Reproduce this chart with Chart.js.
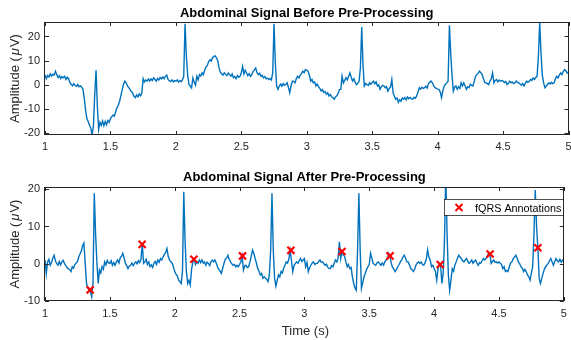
<!DOCTYPE html>
<html><head><meta charset="utf-8">
<script src="https://cdn.jsdelivr.net/npm/chart.js@4.4.1/dist/chart.umd.min.js"></script>
<style>
html,body{margin:0;padding:0;background:#fff;overflow:hidden;width:571px;height:340px}
canvas{position:absolute;left:0}
#c1{top:0}
#c2{top:160px}
</style>
</head><body>
<canvas id="c1" width="571" height="160"></canvas>
<canvas id="c2" width="571" height="180"></canvas>
<script>
// ---- data (sample clock: 1.00 s start, 10 ms step) ----
const T_START = 1.0;
const T_STEP = 0.01;

const beforeUV = [
 4.2, 2.5, 3.8, 3.2, 4.5, 3.6, 4.4, 4.0, 5.6, 4.2,
 3.0, 3.8, 2.6, 3.4, 2.9, 3.5, 2.2, 3.1, 2.5, 1.0,
 0.2, -0.4, 0.5, -0.3, -0.6, 0.1, -0.8, -0.4, -1.0, -1.8,
 -5.5, -10.5, -14.0, -15.2, -16.8, -18.0, -20.8, -17.0, -4.0, 6.0,
 -9.0, -18.5, -15.5, -16.8, -15.0, -17.0, -15.2, -16.5, -14.8, -15.5,
 -14.0, -13.2, -12.5, -13.0, -11.2, -9.5, -8.5, -6.8, -4.5, -2.0,
 0.2, 1.5, 0.8, -0.5, -1.2, -2.0, -2.8, -3.5, -4.8, -5.3,
 -4.2, -5.0, -3.8, -4.5, -3.4, 2.5, 1.2, 2.0, 1.5, 2.4,
 1.6, 2.4, 1.8, 2.9, 2.2, 1.5, 2.6, 2.0, 3.0, 2.4,
 3.2, 2.5, 3.5, 4.0, 2.2, 1.6, 1.4, 2.0, 1.2, 1.7,
 1.5, 2.0, 1.1, 1.8, 1.3, 2.0, 3.5, 25.3, 12.0, 4.0,
 0.1, -0.5, -1.3, 2.8, 1.0, -0.2, 3.5, 2.0, 4.2, 3.6,
 4.9, 4.2, 6.0, 7.4, 8.0, 9.5, 10.3, 9.8, 11.2, 11.8,
 12.0, 11.2, 10.0, 7.0, 5.2, 4.5, 4.0, 5.0, 4.3, 3.8,
 4.9, 4.2, 3.5, 4.5, 2.9, 3.4, 2.5, 3.8, 3.1, 3.5,
 5.0, 7.6, 4.5, 6.0, 4.9, 3.8, 4.6, 3.5, 4.2, 5.5,
 6.2, 6.9, 5.0, 4.2, 4.8, 3.5, 3.9, 2.9, 3.4, 2.5,
 2.8, 2.2, 2.6, 2.0, 5.0, 25.3, 9.0, -0.5, -1.9, -0.5,
 0.3, -0.6, 0.5, -0.2, 0.1, 0.8, -1.0, -3.3, -0.5, 1.5,
 1.5, 0.8, 2.5, 3.5, 2.8, 4.0, 4.6, 5.6, 5.0, 6.3,
 6.0, 5.6, 4.0, 1.5, 2.2, 0.8, 1.2, -0.5, 0.3, -0.8,
 -1.5, -2.6, -2.0, -3.2, -2.8, -3.9, -3.3, -4.6, -4.0, -5.0,
 -5.3, -6.0, -5.0, -4.6, -3.5, -2.0, -1.9, 3.5, 0.8, 1.8,
 2.9, 2.0, 3.5, 4.9, 3.0, 1.5, 2.5, 1.0, 0.1, 0.6,
 1.5, 7.0, 23.9, 8.0, -0.5, 0.5, 0.1, -0.3, 0.8, 0.2,
 1.0, 1.5, 0.4, 1.2, -0.5, 0.0, -1.9, -0.8, -0.2, -0.5,
 -1.2, -0.8, -2.6, -1.5, -1.0, 2.2, -3.3, -4.8, -6.0, -5.5,
 -7.3, -6.2, -6.8, -5.5, -6.0, -5.3, -6.2, -5.0, -5.8, -5.3,
 -5.8, -6.0, -5.2, -5.6, -4.6, -3.0, -1.2, -1.8, -1.0, -1.5,
 -1.2, -0.6, -1.4, 0.5, 1.0, 1.5, 0.8, -0.5, -1.2, -1.5,
 -1.8, -1.9, -3.0, -5.3, -2.5, -0.5, 0.2, 0.8, 1.5, 24.6,
 13.0, 4.0, -2.6, -1.0, -0.5, -1.9, -0.8, -1.5, 0.8, -0.5,
 0.8, -0.5, -1.9, -0.8, -1.2, 0.2, -0.3, -0.5, 1.5, 3.5,
 4.2, 4.8, 5.6, 5.0, 4.2, 2.5, 1.0, 0.8, 0.5, 0.1,
 1.5, 2.5, 4.9, 0.8, 1.8, 2.2, 1.2, 2.0, 1.5, 1.8,
 1.5, 0.9, 1.4, 0.1, 0.6, 1.5, 0.8, 1.2, 0.5, 0.8,
 1.5, 1.0, 0.8, 0.3, -0.2, 0.5, -0.5, 0.6, 1.5, 1.0,
 1.5, 2.2, 1.8, 2.8, 2.2, 3.0, 3.5, 12.0, 26.0, 13.0,
 4.0, 0.8, -1.2, -0.5, 0.1, 0.8, 0.3, 1.0, 0.5, 0.8,
 2.5, 3.5, 2.8, 4.0, 4.9, 4.2, 5.5, 6.3, 5.8, 4.9,
 5.2
];

const afterUV = [
 1.0, -2.6, 0.5, 1.2, -0.4, 0.3, 1.5, 2.3, 0.8, 0.1,
 -0.4, 0.6, -0.3, 0.5, 0.9, 0.1, -0.5, -1.0, -1.4, -1.6,
 -2.1, -0.8, -1.2, -0.2, 0.2, 0.5, 1.8, 2.6, 3.4, 4.8,
 5.5, 0.1, -5.3, -6.5, -7.1, -7.5, -8.9, -5.3, 18.9, 8.0,
 0.5, -5.3, -1.7, -2.5, -0.8, -1.5, 0.5, -0.3, 0.9, 0.2,
 0.1, 0.8, -0.4, 0.3, -0.4, 0.5, 1.0, 0.2, 1.6, 2.0,
 2.8, 1.5, 0.1, -0.5, -1.3, -0.6, -0.4, 0.2, -0.5, 0.1,
 0.5, 0.0, 0.8, 0.3, 1.2, 5.3, 0.1, 0.5, 1.2, -0.2,
 0.5, -0.8, -0.3, -1.0, 0.1, 0.6, -0.2, 1.0, 0.4, 1.4,
 1.0, 1.8, 2.5, 3.0, 4.1, 2.0, 1.0, 0.5, 0.2, -0.8,
 -2.1, -2.8, -3.2, -4.4, -4.8, -5.3, -2.0, 19.3, 6.0, -2.0,
 -5.3, -4.4, -5.7, -1.5, 0.5, 1.2, -0.2, 0.5, 0.1, 1.0,
 0.3, 1.0, 0.2, 0.5, -0.4, 0.4, 0.1, -0.5, 0.6, 1.0,
 0.5, 1.0, 0.2, -0.8, -1.5, -2.0, -2.6, -1.2, 0.1, 1.2,
 1.5, 2.3, 1.2, 0.5, 0.0, -0.4, -0.2, -0.8, -0.4, -0.8,
 -0.2, 0.5, 2.1, -1.7, -0.5, -0.4, -1.0, -0.8, 0.5, 2.0,
 3.7, 2.8, 1.4, 0.2, -1.3, -2.0, -3.0, -2.6, -3.9, -3.5,
 -3.9, -4.2, -4.8, -3.0, 3.7, 18.9, 3.7, -3.9, -6.0, -4.5,
 -3.0, -3.5, -2.1, -2.5, -1.2, -0.4, 0.5, 0.2, 1.2, 3.6,
 1.0, -2.1, -0.5, 0.1, 0.5, 0.1, 0.8, 1.4, 0.6, 1.0,
 1.4, -0.8, 0.3, -2.1, -1.0, -0.4, 0.2, 0.5, -0.2, 0.1,
 0.1, 0.6, 1.0, 0.4, 0.5, 0.0, -0.4, -0.1, -0.9, -1.3,
 -1.3, -0.5, -0.8, 0.2, 1.0, 0.5, 1.5, 5.9, 1.4, 3.3,
 2.3, 2.0, 0.5, -0.8, -0.2, -1.3, -1.0, -3.5, -5.3, -6.5,
 -7.1, 3.7, 18.9, 3.7, -6.6, -5.0, -3.5, -2.5, -1.5, -0.8,
 -0.2, 2.8, 1.5, 0.1, -0.2, -0.4, 0.3, 0.5, 0.0, -0.4,
 0.2, -0.4, 0.5, 1.0, 1.2, 2.8, 2.1, 0.1, -1.0, -1.5,
 -2.1, -1.5, -0.8, -0.2, 0.5, 1.0, 1.8, 2.3, 1.5, 0.5,
 0.5, -0.3, -1.3, -1.6, -2.1, -1.5, -0.4, 0.2, 0.5, 0.1,
 0.5, -0.2, -0.4, 0.3, 1.2, 3.7, 1.8, 1.0, -0.8, -0.4,
 -1.3, -2.0, -4.4, -1.5, 0.1, -0.2, -5.3, -2.6, 6.0, 24.0,
 8.1, -3.0, -7.1, -4.4, -1.3, -2.0, -0.4, 0.5, 1.5, 2.3,
 1.8, 1.4, 0.8, 0.5, 1.0, 1.4, 0.6, 0.1, 0.5, 1.0,
 0.1, 0.6, 1.0, 0.2, -0.4, 0.3, 0.1, 0.8, 1.4, 1.0,
 1.4, 2.0, 2.8, 2.6, 0.1, 0.6, 1.0, 0.4, 0.5, 0.2,
 0.5, 0.1, -0.2, -1.3, -0.8, -2.1, -1.8, -2.1, -0.8, 0.2,
 0.5, 1.4, 1.8, 2.3, 1.5, 0.5, 0.0, -0.8, -1.2, -2.1,
 -1.5, -2.1, -3.0, -3.5, -4.4, -2.5, -0.8, 8.0, 19.8, 10.0,
 4.3, -3.9, -5.3, -4.0, -2.6, -1.5, -0.8, -0.3, 0.1, 0.8,
 1.4, 0.5, -0.4, 0.6, 1.4, 0.8, 0.5, 1.2, 0.4, 1.0,
 0.5
];

const fqrsTime = [1.348, 1.749, 2.148, 2.523, 2.896, 3.29, 3.66, 4.047, 4.432, 4.80];
const fqrsUV   = [-7.0, 5.2, 1.2, 2.1, 3.6, 3.3, 2.1, -0.2, 2.6, 4.3];

const xTickValues = [1, 1.5, 2, 2.5, 3, 3.5, 4, 4.5, 5];
const xTickLabels = ['1', '1.5', '2', '2.5', '3', '3.5', '4', '4.5', '5'];
const yTicksBefore = [-20, -10, 0, 10, 20];
const yTicksAfter = [-10, 0, 10, 20];

const titleBefore = 'Abdominal Signal Before Pre-Processing';
const titleAfter = 'Abdominal Signal After Pre-Processing';
const xLabel = 'Time (s)';
const yLabelParts = ['Amplitude (', 'μ', 'V)'];
const legendLabel = 'fQRS Annotations';

// ---- styling ----
const FONT = '"Liberation Sans", Arial, Helvetica, sans-serif';
const AXC = '#262626';
const LINE_BLUE = '#0072BD';
Chart.defaults.font.family = FONT;
Chart.defaults.font.size = 11;
Chart.defaults.color = AXC;

function toXY(values) {
  return values.map((v, i) => ({ x: +(T_START + i * T_STEP).toFixed(3), y: v }));
}

function drawYLabel(ctx, baseX, centerY) {
  ctx.save();
  ctx.translate(baseX, centerY);
  ctx.rotate(-Math.PI / 2);
  ctx.fillStyle = AXC;
  ctx.textBaseline = 'alphabetic';
  ctx.textAlign = 'left';
  const fonts = ['13px ' + FONT, 'italic 13px ' + FONT, '13px ' + FONT];
  const gaps = [2, 1, 0];
  let total = 0;
  const widths = yLabelParts.map((p, i) => { ctx.font = fonts[i]; const w = ctx.measureText(p).width; total += w + gaps[i]; return w; });
  let x = -total / 2;
  yLabelParts.forEach((p, i) => { ctx.font = fonts[i]; ctx.fillText(p, x, 0); x += widths[i] + gaps[i]; });
  ctx.restore();
}

function drawCross(ctx, x, y, half) {
  ctx.beginPath();
  ctx.moveTo(x - half, y - half); ctx.lineTo(x + half, y + half);
  ctx.moveTo(x - half, y + half); ctx.lineTo(x + half, y - half);
  ctx.stroke();
}

function matlabPlugin(cfg) {
  return {
    id: 'matlabAxes' + cfg.key,
    afterDatasetsDraw(chart) {
      const { ctx, chartArea: a, scales } = chart;
      ctx.save();
      ctx.strokeStyle = AXC;
      ctx.lineWidth = 1;
      ctx.beginPath();
      scales.x.ticks.forEach(t => {
        const px = Math.round(scales.x.getPixelForValue(t.value)) + 0.5;
        ctx.moveTo(px, a.bottom); ctx.lineTo(px, a.bottom - 4);
        ctx.moveTo(px, a.top); ctx.lineTo(px, a.top + 4);
      });
      scales.y.ticks.forEach(t => {
        const py = Math.round(scales.y.getPixelForValue(t.value)) + 0.5;
        ctx.moveTo(a.left, py); ctx.lineTo(a.left + 4, py);
        ctx.moveTo(a.right, py); ctx.lineTo(a.right - 4, py);
      });
      ctx.stroke();
      ctx.strokeRect(Math.round(a.left) - 0.5, Math.round(a.top) + 0.5,
                     Math.round(a.right) - Math.round(a.left), Math.round(a.bottom) - Math.round(a.top) - 1);
      ctx.restore();
    },
    afterDraw(chart) {
      const { ctx, chartArea: a } = chart;
      ctx.save();
      ctx.fillStyle = '#000';
      ctx.font = 'bold 13px ' + FONT;
      ctx.textAlign = 'center';
      ctx.textBaseline = 'alphabetic';
      ctx.fillText(cfg.title, (a.left + a.right) / 2, cfg.titleBase);
      drawYLabel(ctx, 18.5, (a.top + a.bottom) / 2);
      if (cfg.xLabelBase) {
        ctx.fillStyle = AXC;
        ctx.font = '13px ' + FONT;
        ctx.textAlign = 'center';
        ctx.fillText(xLabel, (a.left + a.right) / 2 + 1, cfg.xLabelBase);
      }
      if (cfg.legend) {
        const L = cfg.legend;
        ctx.fillStyle = '#fff';
        ctx.fillRect(L.x, L.y, L.w, L.h);
        ctx.strokeStyle = AXC;
        ctx.lineWidth = 0.8;
        ctx.strokeRect(L.x + 0.5, L.y + 0.5, L.w, L.h);
        ctx.strokeStyle = '#FF0000';
        ctx.lineWidth = 2;
        drawCross(ctx, L.x + 15, L.y + L.h / 2 + 0.5, 3.5);
        ctx.fillStyle = '#000';
        ctx.font = '10.8px ' + FONT;
        ctx.textAlign = 'left';
        ctx.fillText(legendLabel, L.x + 31, L.y + 12.5);
      }
      ctx.restore();
    }
  };
}

function makeOptions(cfg) {
  return {
    responsive: false,
    animation: false,
    devicePixelRatio: 1,
    layout: { padding: { left: 0, right: 2.5, top: cfg.top, bottom: 0 } },
    plugins: { legend: { display: false }, tooltip: { enabled: false }, title: { display: false } },
    elements: { point: { radius: 0 } },
    scales: {
      x: {
        type: 'linear', min: 1, max: 5,
        grid: { display: false, drawTicks: false },
        border: { display: false },
        ticks: { autoSkip: false, maxRotation: 0, padding: cfg.xPad, color: AXC, font: { size: 11 },
          callback: (v) => { const k = xTickValues.indexOf(v); return k >= 0 ? xTickLabels[k] : ''; } },
        afterBuildTicks: s => { s.ticks = xTickValues.map(v => ({ value: v })); },
        afterFit: s => { s.height = cfg.xH; s.paddingLeft = 0; s.paddingRight = 0; }
      },
      y: {
        type: 'linear', min: cfg.yMin, max: cfg.yMax,
        grid: { display: false, drawTicks: false },
        border: { display: false },
        ticks: { padding: 5, color: AXC, font: { size: 11 }, callback: (v) => String(v) },
        afterBuildTicks: s => { s.ticks = cfg.yTicks.map(v => ({ value: v })); },
        afterFit: s => { s.width = 45; s.paddingTop = 0; s.paddingBottom = 0; }
      }
    }
  };
}

new Chart(document.getElementById('c1'), {
  type: 'line',
  data: { datasets: [{
    data: toXY(beforeUV), borderColor: LINE_BLUE, borderWidth: 1.4, pointRadius: 0, tension: 0
  }] },
  options: makeOptions({ top: 22, xH: 25, xPad: 5, yMin: -20.8, yMax: 26, yTicks: yTicksBefore }),
  plugins: [matlabPlugin({ key: 'a', title: titleBefore, titleBase: 16.5 })]
});

new Chart(document.getElementById('c2'), {
  type: 'line',
  data: { datasets: [
    { data: toXY(afterUV), borderColor: LINE_BLUE, borderWidth: 1.4, pointRadius: 0, tension: 0, order: 2 },
    { data: fqrsTime.map((t, i) => ({ x: t, y: fqrsUV[i] })), showLine: false,
      pointStyle: 'crossRot', pointRadius: 5, borderColor: '#FF0000', backgroundColor: '#FF0000',
      pointBorderWidth: 2.2, borderWidth: 2.2, order: 1 }
  ] },
  options: makeOptions({ top: 27, xH: 39, xPad: 6, yMin: -10, yMax: 20.6, yTicks: yTicksAfter }),
  plugins: [matlabPlugin({ key: 'b', title: titleAfter, titleBase: 20.5, xLabelBase: 175,
    legend: { x: 444, y: 39, w: 119, h: 16 } })]
});
</script>
</body></html>
